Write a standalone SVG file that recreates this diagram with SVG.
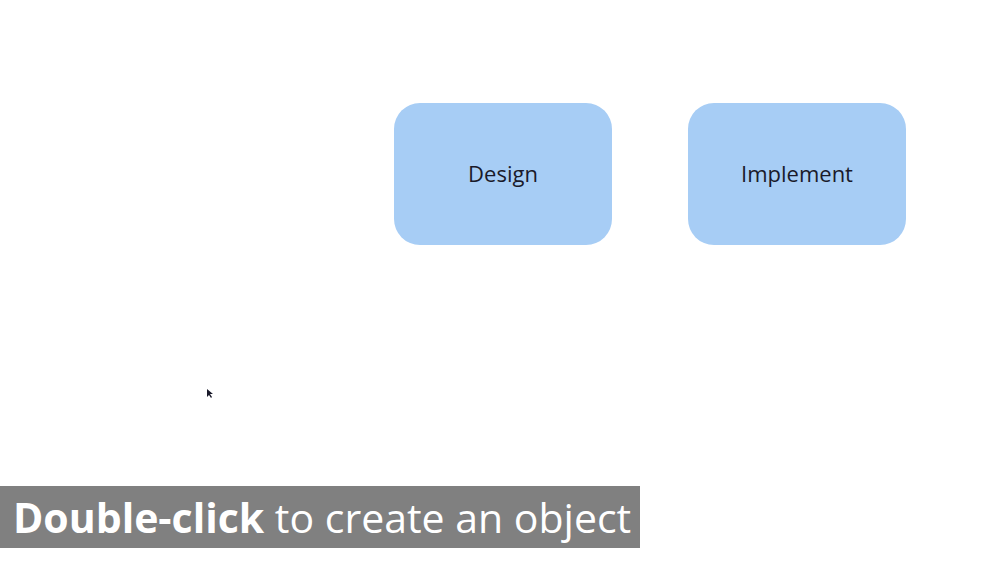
<svg xmlns="http://www.w3.org/2000/svg" width="1000" height="562" viewBox="0 0 1000 562">
<style>
.node rect{fill:#a7cdf5;}
.node text{font-family:"Open Sans","Noto Sans",sans-serif;font-size:22px;fill:#1a1a2a;text-anchor:middle;}
.banner text{font-family:"Open Sans","Noto Sans",sans-serif;font-size:41px;fill:#ffffff;}
</style>
<rect width="1000" height="562" fill="#ffffff"/>
<g id="connectors"></g>
<g id="design" class="node">
<rect x="394" y="103" width="218" height="142" rx="26" ry="26"/>
<text x="503" y="182">Design</text>
</g>
<g id="implement" class="node">
<rect x="688" y="103" width="218" height="142" rx="26" ry="26"/>
<text x="797" y="182">Implement</text>
</g>
<g id="banner" class="banner">
<rect x="0" y="486" width="640" height="62" fill="#808080"/>
<text x="13" y="533"><tspan font-weight="bold">Double-click</tspan> to create an object</text>
</g>
<g id="cursor">
<polygon points="207,389 207,397 209,395 211,398 212,397 210,394 213,394" fill="#1a1a2a"/>
</g>
</svg>
